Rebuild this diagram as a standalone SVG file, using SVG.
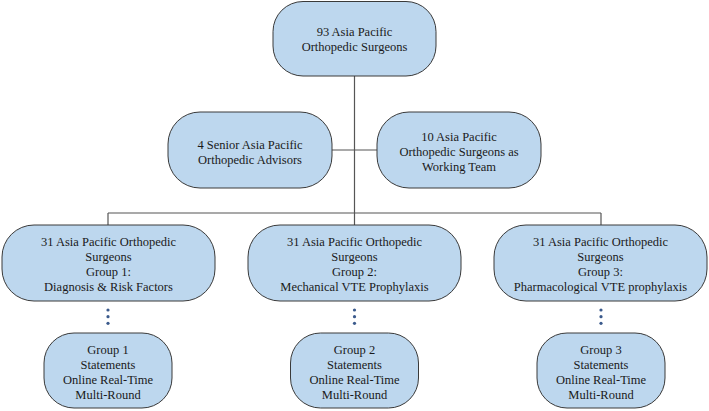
<svg xmlns="http://www.w3.org/2000/svg" width="709" height="411" viewBox="0 0 709 411">
<style>
.n{fill:#bdd7ee;stroke:#3a3a3a;stroke-width:1}
.t{font-family:"Liberation Serif","Times New Roman",serif;font-size:12.5px;fill:#1a1a1a;text-anchor:middle;dominant-baseline:central}
.c{stroke:#555;stroke-width:1.2;fill:none}
.d{fill:#3b5a8c}
</style>
<rect width="709" height="411" fill="#fff"/>
<g id="connectors">
<path class="c" d="M354.5 76V225M332 150H377M108 213H601M108 213V225M601 213V225"/>
</g>
<g id="dots">
<circle class="d" cx="108" cy="310" r="1.6"/><circle class="d" cx="108" cy="316.7" r="1.6"/><circle class="d" cx="108" cy="323.3" r="1.6"/>
<circle class="d" cx="354.5" cy="310" r="1.6"/><circle class="d" cx="354.5" cy="316.7" r="1.6"/><circle class="d" cx="354.5" cy="323.3" r="1.6"/>
<circle class="d" cx="601" cy="310" r="1.6"/><circle class="d" cx="601" cy="316.7" r="1.6"/><circle class="d" cx="601" cy="323.3" r="1.6"/>
</g>
<g id="top">
<rect class="n" x="273" y="1.5" width="163" height="74.5" rx="30"/>
<text class="t" x="354.5" y="32">93 Asia Pacific</text>
<text class="t" x="354.5" y="47">Orthopedic Surgeons</text>
</g>
<g id="advisors">
<rect class="n" x="168" y="112" width="164" height="76" rx="32"/>
<text class="t" x="250" y="145">4 Senior Asia Pacific</text>
<text class="t" x="250" y="160">Orthopedic Advisors</text>
</g>
<g id="team">
<rect class="n" x="377" y="112" width="164" height="76" rx="32"/>
<text class="t" x="459" y="137">10 Asia Pacific</text>
<text class="t" x="459" y="152">Orthopedic Surgeons as</text>
<text class="t" x="459" y="167">Working Team</text>
</g>
<g id="g1">
<rect class="n" x="2" y="225" width="213" height="76" rx="32"/>
<text class="t" x="108.5" y="242">31 Asia Pacific Orthopedic</text>
<text class="t" x="108.5" y="257">Surgeons</text>
<text class="t" x="108.5" y="272">Group 1:</text>
<text class="t" x="108.5" y="287">Diagnosis &amp; Risk Factors</text>
</g>
<g id="g2">
<rect class="n" x="248" y="225" width="213" height="76" rx="32"/>
<text class="t" x="354.5" y="242">31 Asia Pacific Orthopedic</text>
<text class="t" x="354.5" y="257">Surgeons</text>
<text class="t" x="354.5" y="272">Group 2:</text>
<text class="t" x="354.5" y="287">Mechanical VTE Prophylaxis</text>
</g>
<g id="g3">
<rect class="n" x="494" y="225" width="213" height="76" rx="32"/>
<text class="t" x="600.5" y="242">31 Asia Pacific Orthopedic</text>
<text class="t" x="600.5" y="257">Surgeons</text>
<text class="t" x="600.5" y="272">Group 3:</text>
<text class="t" x="600.5" y="287">Pharmacological VTE prophylaxis</text>
</g>
<g id="s1">
<rect class="n" x="44" y="333" width="128" height="75" rx="30"/>
<text class="t" x="108" y="350">Group 1</text>
<text class="t" x="108" y="365">Statements</text>
<text class="t" x="108" y="380">Online Real-Time</text>
<text class="t" x="108" y="395">Multi-Round</text>
</g>
<g id="s2">
<rect class="n" x="290.5" y="333" width="128" height="75" rx="30"/>
<text class="t" x="354.5" y="350">Group 2</text>
<text class="t" x="354.5" y="365">Statements</text>
<text class="t" x="354.5" y="380">Online Real-Time</text>
<text class="t" x="354.5" y="395">Multi-Round</text>
</g>
<g id="s3">
<rect class="n" x="537" y="333" width="128" height="75" rx="30"/>
<text class="t" x="601" y="350">Group 3</text>
<text class="t" x="601" y="365">Statements</text>
<text class="t" x="601" y="380">Online Real-Time</text>
<text class="t" x="601" y="395">Multi-Round</text>
</g>
</svg>
